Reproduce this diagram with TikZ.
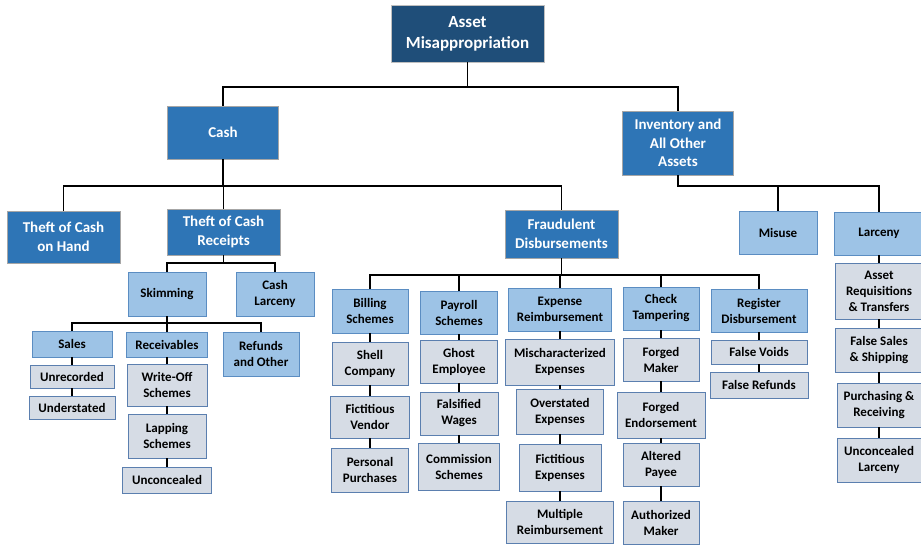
\documentclass[tikz,border=0pt]{standalone}
\usepackage{fontspec}
\setmainfont{Carlito}
\usetikzlibrary{calc}
\definecolor{topblue}{HTML}{1F4E79}
\definecolor{midblue}{HTML}{2E75B6}
\definecolor{lightblue}{HTML}{9DC3E6}
\definecolor{lightedge}{HTML}{5B8DC2}
\definecolor{leafgrey}{HTML}{D6DCE5}
\definecolor{leafedge}{HTML}{5B7FAF}
\tikzset{
	topbox/.style={draw=black!25, fill=topblue, text=white, align=center, inner sep=1pt, font=\fontsize{17}{21}\selectfont\bfseries},
	midbox/.style={draw=black!35, fill=midblue, text=white, align=center, inner sep=1pt, font=\fontsize{15}{18.5}\selectfont\bfseries},
	subbox/.style={draw=lightedge, fill=lightblue, text=black, align=center, inner sep=1pt, font=\fontsize{13}{16}\selectfont\bfseries},
	leafbox/.style={draw=leafedge, fill=leafgrey, text=black, align=center, inner sep=1pt, font=\fontsize{13}{16}\selectfont\bfseries},
	wh/.style 2 args={minimum width=#1, minimum height=#2},
	link/.style={line width=1.4pt, black}
}
\begin{document}
\begin{tikzpicture}[x=1pt, y=-1pt]
			%%%%% START %%%%%
			\useasboundingbox[fill=white] (0,0) rectangle (921,544);
			
			\coordinate (bus0) at (0,87);
			\coordinate (bus1) at (0,186);
			\coordinate (bus2) at (0,263);
			\coordinate (bus3) at (0,323);
			\coordinate (bus4) at (0,275);
			
			% top levels
			\node[topbox, wh={153}{57}] (asset) at (467.5,33.5) {Asset\\Misappropriation};
			\node[midbox, wh={111}{53}] (cash) at (223,132.5) {Cash};
			\node[midbox, wh={111}{64}] (inv) at (678,143) {Inventory and\\All Other\\Assets};
			
			\node[midbox, wh={113}{52}] (onhand) at (63.5,237) {Theft of Cash\\on Hand};
			\node[midbox, wh={113}{46}] (receipts) at (223.5,232) {Theft of Cash\\Receipts};
			\node[midbox, wh={113}{48}] (fraud) at (561.5,234) {Fraudulent\\Disbursements};
			\node[subbox, wh={78}{43}] (misuse) at (778,232.5) {Misuse};
			\node[subbox, wh={90}{43}] (larceny) at (879,233.5) {Larceny};
			
			% theft of cash receipts
			\node[subbox, wh={78}{44}] (skim) at (167,294) {Skimming};
			\node[subbox, wh={78}{44}] (cashlarc) at (275,294) {Cash\\Larceny};
			
			\node[subbox, wh={80}{26}] (sales) at (72,344) {Sales};
			\node[subbox, wh={81}{25}] (recv) at (167,344.5) {Receivables};
			\node[subbox, wh={76}{44}] (refunds) at (261,354) {Refunds\\and Other};
			
			\node[leafbox, wh={84}{23}] (unrec) at (72,376.5) {Unrecorded};
			\node[leafbox, wh={86}{23}] (underst) at (72,407.5) {Understated};
			
			\node[leafbox, wh={80}{42}] (writeoff) at (167,385) {Write-Off\\Schemes};
			\node[leafbox, wh={78}{44}] (lapping) at (167,436) {Lapping\\Schemes};
			\node[leafbox, wh={89}{26}] (uncon) at (167,480) {Unconcealed};
			
			% fraudulent disbursements
			\node[subbox, wh={76}{44}] (billing) at (370,311) {Billing\\Schemes};
			\node[subbox, wh={77}{43}] (payroll) at (459,312.5) {Payroll\\Schemes};
			\node[subbox, wh={103}{43}] (expense) at (560,309.5) {Expense\\Reimbursement};
			\node[subbox, wh={76}{43}] (check) at (661,308.5) {Check\\Tampering};
			\node[subbox, wh={96}{43}] (register) at (759,310.5) {Register\\Disbursement};
			
			\node[leafbox, wh={76}{43}] (shell) at (370,363.5) {Shell\\Company};
			\node[leafbox, wh={79}{42}] (fvendor) at (370,417) {Fictitious\\Vendor};
			\node[leafbox, wh={77}{44}] (personal) at (370,470) {Personal\\Purchases};
			
			\node[leafbox, wh={77}{43}] (ghost) at (459,361.5) {Ghost\\Employee};
			\node[leafbox, wh={78}{43}] (falsewage) at (459,413.5) {Falsified\\Wages};
			\node[leafbox, wh={81}{47}] (commission) at (459,466.5) {Commission\\Schemes};
			
			\node[leafbox, wh={109}{46}] (mischar) at (560,362) {Mischaracterized\\Expenses};
			\node[leafbox, wh={87}{45}] (overst) at (560,411.5) {Overstated\\Expenses};
			\node[leafbox, wh={82}{47}] (fexpense) at (560,467.5) {Fictitious\\Expenses};
			\node[leafbox, wh={107}{42}] (multiple) at (560,522) {Multiple\\Reimbursement};
			
			\node[leafbox, wh={76}{43}] (fmaker) at (661,359.5) {Forged\\Maker};
			\node[leafbox, wh={88}{46}] (fendorse) at (661,415) {Forged\\Endorsement};
			\node[leafbox, wh={76}{43}] (altered) at (661,464.5) {Altered\\Payee};
			\node[leafbox, wh={76}{43}] (authmaker) at (661,523) {Authorized\\Maker};
			
			\node[leafbox, wh={96}{24}] (fvoids) at (759,352) {False Voids};
			\node[leafbox, wh={98}{26}] (frefunds) at (759,385) {False Refunds};
			
			% larceny
			\node[leafbox, wh={88}{56}] (assetreq) at (879,291) {Asset\\Requisitions\\\& Transfers};
			\node[leafbox, wh={88}{44}] (falsesales) at (879,350) {False Sales\\\& Shipping};
			\node[leafbox, wh={84}{44}] (purchasing) at (879,405) {Purchasing \&\\Receiving};
			\node[leafbox, wh={84}{44}] (unconlarc) at (879,460) {Unconcealed\\Larceny};
			
			% connectors
			\draw[link] (asset.south) -- (asset.south |- bus0);
			\draw[link] (cash.north) |- (inv.north |- bus0) -- (inv.north);
			
			\draw[link] (cash.south) -- (cash.south |- bus1);
			\draw[link] (onhand.north) |- (fraud.north |- bus1) -- (fraud.north);
			\draw[link] (receipts.north) -- (receipts.north |- bus1);
			
			\draw[link] (inv.south) -- (inv.south |- bus1);
			\draw[link] (misuse.north) |- (larceny.north |- bus1) -- (larceny.north);
			\draw[link] (misuse.north |- bus1) -| (inv.south);
			
			\draw[link] (receipts.south) -- (receipts.south |- bus2);
			\draw[link] (skim.north) |- (cashlarc.north |- bus2) -- (cashlarc.north);
			
			\draw[link] (skim.south) -- (skim.south |- bus3);
			\draw[link] (sales.north) |- (refunds.north |- bus3) -- (refunds.north);
			\draw[link] (recv.north) -- (recv.north |- bus3);
			
			\draw[link] (sales) -- (unrec) -- (underst);
			\draw[link] (recv) -- (writeoff) -- (lapping) -- (uncon);
			
			\draw[link] (fraud.south) -- (fraud.south |- bus4);
			\draw[link] (billing.north) |- (register.north |- bus4) -- (register.north);
			\draw[link] (payroll.north) -- (payroll.north |- bus4);
			\draw[link] (expense.north) -- (expense.north |- bus4);
			\draw[link] (check.north) -- (check.north |- bus4);
			
			\draw[link] (billing) -- (shell) -- (fvendor) -- (personal);
			\draw[link] (payroll) -- (ghost) -- (falsewage) -- (commission);
			\draw[link] (expense) -- (mischar) -- (overst) -- (fexpense) -- (multiple);
			\draw[link] (check) -- (fmaker) -- (fendorse) -- (altered) -- (authmaker);
			\draw[link] (register) -- (fvoids) -- (frefunds);
			\draw[link] (larceny) -- (assetreq) -- (falsesales) -- (purchasing) -- (unconlarc);
			%%%%% END %%%%%
\end{tikzpicture}
\end{document}
